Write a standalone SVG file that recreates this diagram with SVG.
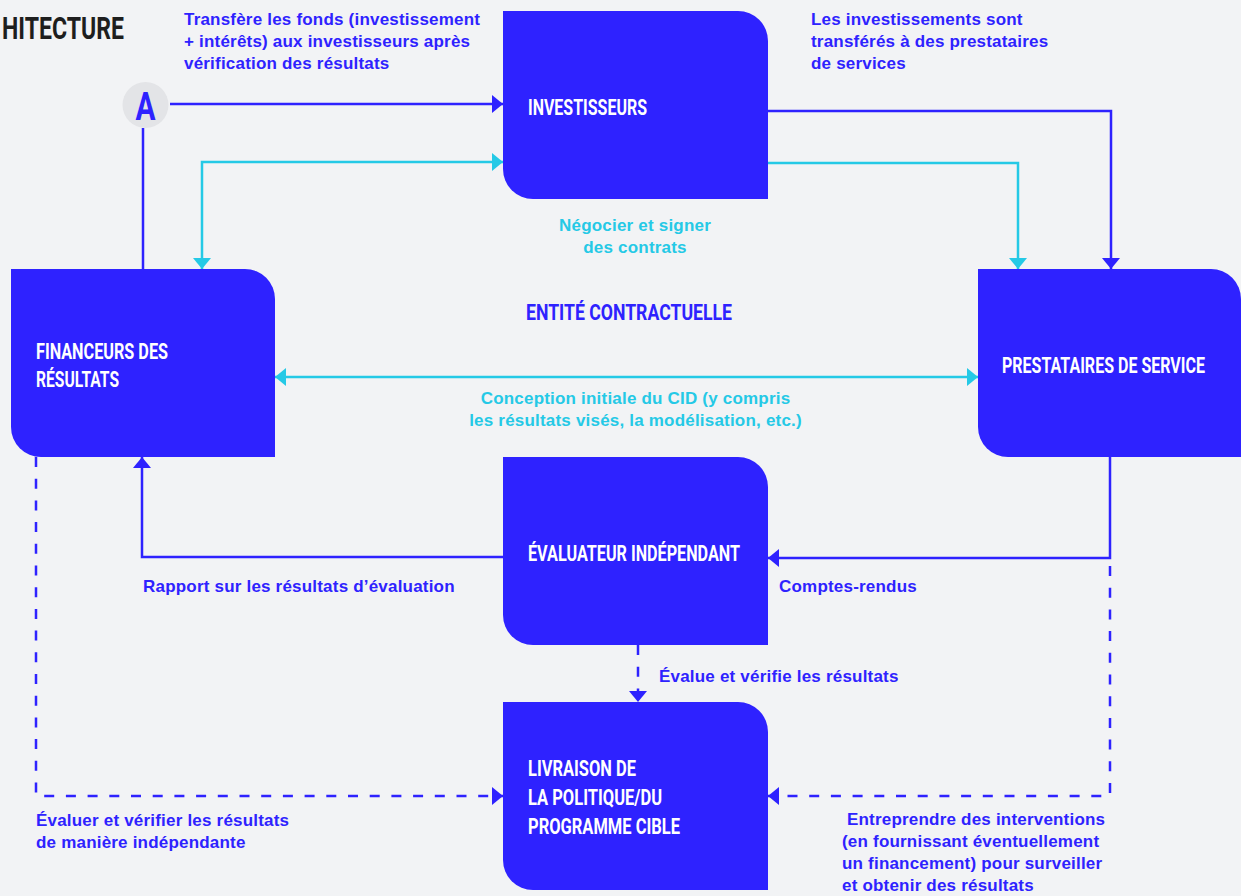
<svg xmlns="http://www.w3.org/2000/svg" width="1241" height="896" viewBox="0 0 1241 896">
<style>
.bg{fill:#f2f3f5}
.box{fill:#2e22ff}
.nl{font-family:"Liberation Sans Narrow","Roboto","Liberation Sans",sans-serif;font-weight:bold;font-size:22px;fill:#ffffff}
.el{font-family:"Liberation Sans","Arial",sans-serif;font-weight:bold;font-size:17px;letter-spacing:0.2px;fill:#2e22ff}
.ec{font-family:"Liberation Sans","Arial",sans-serif;font-weight:bold;font-size:17px;letter-spacing:0.2px;fill:#25c9e6}
.b{fill:none;stroke:#2e22ff;stroke-width:2.5}
.c{fill:none;stroke:#25c9e6;stroke-width:2.5}
.d{fill:none;stroke:#2e22ff;stroke-width:2.5;stroke-dasharray:10 11.7}
</style>
<defs>
<marker id="ab" viewBox="0 0 11 18" refX="11" refY="9" markerWidth="11" markerHeight="18" markerUnits="userSpaceOnUse" orient="auto-start-reverse"><path d="M0,0 L11,9 L0,18 z" fill="#2e22ff"/></marker>
<marker id="ac" viewBox="0 0 11 18" refX="11" refY="9" markerWidth="11" markerHeight="18" markerUnits="userSpaceOnUse" orient="auto-start-reverse"><path d="M0,0 L11,9 L0,18 z" fill="#25c9e6"/></marker>
</defs>
<rect class="bg" x="0" y="0" width="1241" height="896"/>

<text x="2" y="39" font-family="Liberation Sans Narrow, Roboto, Liberation Sans, sans-serif" font-weight="bold" font-size="31" fill="#1e1e1e" textLength="122" lengthAdjust="spacingAndGlyphs">HITECTURE</text>

<g id="connectors">
  <path class="b" d="M170,104 H503" marker-end="url(#ab)"/>
  <path class="b" d="M143,128 V269"/>
  <path class="c" d="M503,162 H202 V269" marker-start="url(#ac)" marker-end="url(#ac)"/>
  <path class="b" d="M768,111 H1111 V269" marker-end="url(#ab)"/>
  <path class="c" d="M768,163 H1018 V269" marker-end="url(#ac)"/>
  <path class="c" d="M275,377 H978" marker-start="url(#ac)" marker-end="url(#ac)"/>
  <path class="b" d="M1110,457 V558 H768" marker-end="url(#ab)"/>
  <path class="b" d="M503,557 H142 V457" marker-end="url(#ab)"/>
  <path class="d" d="M1110,566 V796 H768" marker-end="url(#ab)"/>
  <path class="d" d="M36,457 V796 H503" marker-end="url(#ab)"/>
  <path class="d" d="M638,645 V702" marker-end="url(#ab)"/>
</g>

<g id="node-a">
  <circle cx="145.5" cy="105" r="23" fill="#e3e4e7"/>
  <text x="145.5" y="120" text-anchor="middle" font-family="Liberation Sans Narrow, Roboto, Liberation Sans, sans-serif" font-weight="bold" font-size="38" fill="#2e22ff" textLength="20" lengthAdjust="spacingAndGlyphs">A</text>
</g>

<g id="investisseurs">
  <path class="box" d="M503,11 H738 A30,30 0 0 1 768,41 V199 H533 A30,30 0 0 1 503,169 Z"/>
  <text class="nl" x="528" y="115" textLength="119" lengthAdjust="spacingAndGlyphs">INVESTISSEURS</text>
</g>

<g id="financeurs">
  <path class="box" d="M11,269 H245 A30,30 0 0 1 275,299 V457 H41 A30,30 0 0 1 11,427 Z"/>
  <text class="nl" x="36" y="359" textLength="132" lengthAdjust="spacingAndGlyphs">FINANCEURS DES</text>
  <text class="nl" x="36" y="387" textLength="83" lengthAdjust="spacingAndGlyphs">RÉSULTATS</text>
</g>

<g id="prestataires">
  <path class="box" d="M978,269 H1211 A30,30 0 0 1 1241,299 V457 H1008 A30,30 0 0 1 978,427 Z"/>
  <text class="nl" x="1205" y="373" text-anchor="end" textLength="203" lengthAdjust="spacingAndGlyphs">PRESTATAIRES DE SERVICE</text>
</g>

<g id="evaluateur">
  <path class="box" d="M503,457 H738 A30,30 0 0 1 768,487 V645 H533 A30,30 0 0 1 503,615 Z"/>
  <text class="nl" x="528" y="561" textLength="212" lengthAdjust="spacingAndGlyphs">ÉVALUATEUR INDÉPENDANT</text>
</g>

<g id="livraison">
  <path class="box" d="M503,702 H738 A30,30 0 0 1 768,732 V890 H533 A30,30 0 0 1 503,860 Z"/>
  <text class="nl" x="528" y="776" textLength="108" lengthAdjust="spacingAndGlyphs">LIVRAISON DE</text>
  <text class="nl" x="528" y="805" textLength="134" lengthAdjust="spacingAndGlyphs">LA POLITIQUE/DU</text>
  <text class="nl" x="528" y="834" textLength="152" lengthAdjust="spacingAndGlyphs">PROGRAMME CIBLE</text>
</g>

<g id="entite">
  <text x="526" y="320" font-family="Liberation Sans Narrow, Roboto, Liberation Sans, sans-serif" font-weight="bold" font-size="22" fill="#2e22ff" textLength="206" lengthAdjust="spacingAndGlyphs">ENTITÉ CONTRACTUELLE</text>
</g>

<g id="labels">
  <text class="el" x="184" y="25">Transfère les fonds (investissement</text>
  <text class="el" x="184" y="47">+ intérêts) aux investisseurs après</text>
  <text class="el" x="184" y="69">vérification des résultats</text>

  <text class="el" x="811" y="25">Les investissements sont</text>
  <text class="el" x="811" y="47">transférés à des prestataires</text>
  <text class="el" x="811" y="69">de services</text>

  <text class="ec" x="635" y="231" text-anchor="middle">Négocier et signer</text>
  <text class="ec" x="635" y="253" text-anchor="middle">des contrats</text>

  <text class="ec" x="635.5" y="404" text-anchor="middle">Conception initiale du CID (y compris</text>
  <text class="ec" x="635.5" y="426" text-anchor="middle">les résultats visés, la modélisation, etc.)</text>

  <text class="el" x="143" y="592">Rapport sur les résultats d’évaluation</text>
  <text class="el" x="779" y="592">Comptes-rendus</text>
  <text class="el" x="659" y="682">Évalue et vérifie les résultats</text>

  <text class="el" x="36" y="826">Évaluer et vérifier les résultats</text>
  <text class="el" x="36" y="848">de manière indépendante</text>

  <text class="el" x="847" y="825">Entreprendre des interventions</text>
  <text class="el" x="842" y="847">(en fournissant éventuellement</text>
  <text class="el" x="842" y="869">un financement) pour surveiller</text>
  <text class="el" x="842" y="891">et obtenir des résultats</text>
</g>
</svg>
